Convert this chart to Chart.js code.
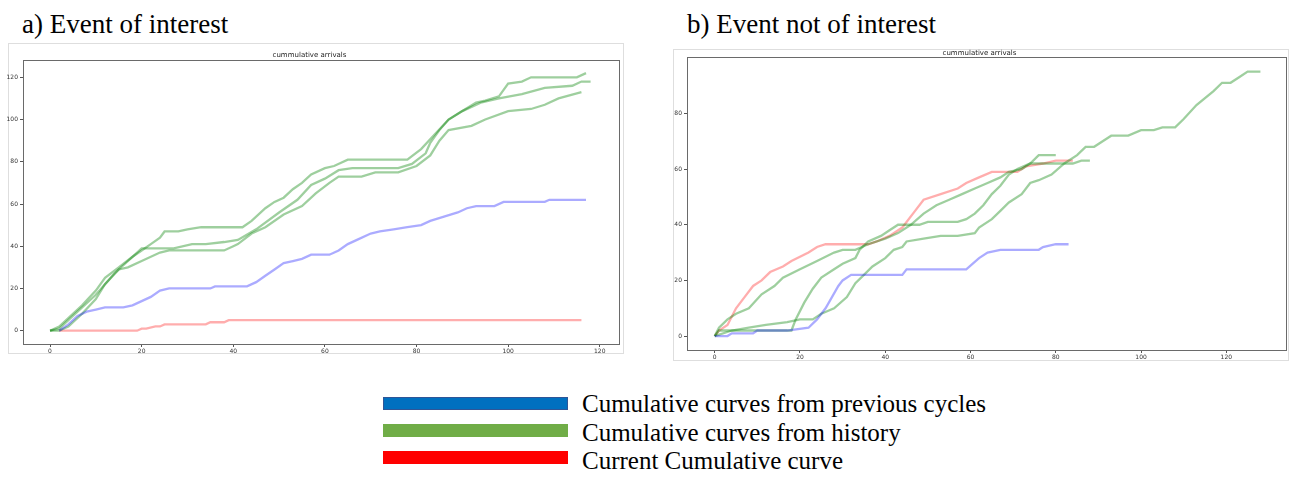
<!DOCTYPE html>
<html lang="en">
<head>
<meta charset="UTF-8">
<title>Cumulative arrivals</title>
<script src="https://cdn.jsdelivr.net/npm/chart.js"></script>
<style>
  body { margin: 0; width: 1290px; height: 477px; background: #fff; position: relative; overflow: hidden;
         font-family: "Liberation Serif", "Times New Roman", serif; color: #000; }
  .panel-title { position: absolute; font-size: 27px; line-height: 27px; white-space: nowrap; }
  .frame { position: absolute; border: 1px solid #dedede; box-sizing: border-box; }
  canvas.plot { position: absolute; filter: blur(0.45px); }
  .swatch { position: absolute; left: 383px; width: 185px; height: 13px; box-sizing: border-box; }
  .legend-text { position: absolute; left: 582px; font-size: 25px; line-height: 27px; white-space: nowrap; }
</style>
</head>
<body>
<div class="panel-title" style="left:22px; top:11px;">a) Event of interest</div>
<div class="panel-title" style="left:687px; top:11px;">b) Event not of interest</div>

<div class="frame" style="left:8px; top:43px; width:616px; height:311px;"></div>
<div class="frame" style="left:673px; top:49px; width:616px; height:312px;"></div>

<canvas id="chartA" class="plot" width="623" height="316" style="left:0; top:44px;"></canvas>
<canvas id="chartB" class="plot" width="617" height="320" style="left:673px; top:44px;"></canvas>

<div class="swatch" style="top:397px; background:#0070c0; border:1px solid #2f5597;"></div>
<div class="swatch" style="top:424px; background:#70ad47;"></div>
<div class="swatch" style="top:451px; background:#ff0000;"></div>
<div class="legend-text" style="top:390px;">Cumulative curves from previous cycles</div>
<div class="legend-text" style="top:419px;">Cumulative curves from history</div>
<div class="legend-text" style="top:447px;">Current Cumulative curve</div>

<script>
// a) event of interest
const aPrevX = [2,4,6,8,10,12,16,18,20,22,24,26,35,36,43,45,47,49,51,53,55,57,61,63,65,67,70,72,75,78,81,83,86,89,91,93,97,99,108,109,117];
const aPrevY = [0,3,7,9,10,11,11,12,14,16,19,20,20,21,21,23,26,29,32,33,34,36,36,38,41,43,46,47,48,49,50,52,54,56,58,59,59,61,61,62,62];
const aCurX = [2,19,20,21,23,24,25,34,35,36,38,39,40,116];
const aCurY = [0,0,1,1,2,2,3,3,4,4,4,5,5,5];
const aHist1X = [0,2,4,7,10,12,15,18,20,22,24,25,28,30,33,42,44,47,49,51,53,55,57,60,62,65,78,81,84,87,90,93,95,98,100,103,105,115,117];
const aHist1Y = [0,2,6,12,19,25,30,35,38,41,44,47,47,48,49,49,52,58,61,63,67,70,74,77,78,81,81,86,93,100,104,108,109,111,117,118,120,120,122];
const aHist2X = [0,2,4,6,8,10,12,14,16,18,20,22,27,31,34,38,41,45,50,54,57,60,63,66,76,79,82,83,85,87,90,94,98,103,108,114,116,118];
const aHist2Y = [0,1,5,9,13,17,22,27,31,35,39,39,39,41,41,42,43,48,56,62,69,72,76,77,77,79,84,89,95,100,104,108,110,112,115,116,118,118];
const aHist3X = [0,2,4,7,10,12,15,17,20,24,26,32,38,40,41,44,47,51,55,58,61,63,68,71,76,80,83,85,87,92,95,100,105,108,111,116];
const aHist3Y = [0,0,2,8,15,22,29,30,33,37,38,38,38,40,41,46,49,55,59,65,70,73,73,75,75,78,83,90,95,97,100,104,105,107,110,113];
const aXTicks = [0,20,40,60,80,100,120];
const aYTicks = [0,20,40,60,80,100,120];

// b) event not of interest
const bPrevX = [0,3,4,9,10,17,22,24,26,29,30,32,44,45,59,62,64,67,76,77,80,83];
const bPrevY = [0,0,1,1,2,2,3,6,10,18,20,22,22,24,24,28,30,31,31,32,33,33];
const bCurX = [0,1,3,5,7,9,11,13,16,18,22,24,26,36,38,41,44,47,49,53,57,59,62,65,71,73,77,80,84];
const bCurY = [0,2,4,10,14,18,20,23,25,27,30,32,33,33,34,36,39,45,49,51,53,55,57,59,59,61,62,63,63];
const bHist1X = [0,1,3,5,8,11,14,16,20,24,28,30,33,36,40,43,46,49,52,55,58,61,64,67,69,72,74,76,80];
const bHist1Y = [0,3,6,8,10,15,18,21,24,27,30,31,31,33,35,37,40,44,47,49,51,53,55,57,59,60,62,65,65];
const bHist2X = [0,1,18,19,21,23,25,28,30,33,34,36,39,41,43,48,50,57,59,61,63,65,67,69,71,74,84,86,88];
const bHist2Y = [0,2,2,6,12,17,21,24,26,28,31,34,36,38,40,40,41,41,42,44,47,51,54,58,60,62,62,63,63];
const bHist3X = [0,4,8,12,17,20,23,25,28,31,33,35,37,40,42,44,45,49,53,57,61,62,65,67,69,72,74,76,79,82,85,87,89,91,93,97,100,103,105,108,110,113,117,119,121,123,125,128];
const bHist3Y = [0,2,3,4,5,6,6,8,10,14,19,22,25,28,31,32,34,35,36,36,37,39,42,45,48,51,55,56,58,62,65,68,68,70,72,72,74,74,75,75,78,83,88,91,91,93,95,95];
const bXTicks = [0,20,40,60,80,100,120];
const bYTicks = [0,20,40,60,80];

const BLUE = 'rgba(0, 0, 255, 0.33)';
const GREEN = 'rgba(0, 128, 0, 0.38)';
const RED = 'rgba(255, 0, 0, 0.32)';

function points(xs, ys) {
  return xs.map((x, i) => ({ x: x, y: ys[i] }));
}

function line(xs, ys, color) {
  return { data: points(xs, ys), borderColor: color, borderWidth: 2.3, pointRadius: 0, tension: 0, fill: false };
}

// full box around the plot area, like the matplotlib axes frame
const axesBox = {
  id: 'axesBox',
  afterDraw(chart) {
    const a = chart.chartArea;
    const ctx = chart.ctx;
    ctx.save();
    ctx.strokeStyle = '#6a6a6a';
    ctx.lineWidth = 1;
    ctx.strokeRect(Math.round(a.left) + 0.5, Math.round(a.top) + 0.5, Math.round(a.right - a.left), Math.round(a.bottom - a.top));
    ctx.restore();
  }
};

function makeChart(id, datasets, opts) {
  const tickFont = { family: 'DejaVu Sans', size: 6 };
  new Chart(document.getElementById(id), {
    type: 'line',
    data: { datasets: datasets },
    plugins: [axesBox],
    options: {
      responsive: false,
      animation: false,
      devicePixelRatio: 1,
      layout: { padding: { left: 0, right: 4, top: 0, bottom: 0 } },
      plugins: {
        legend: { display: false },
        tooltip: { enabled: false },
        title: {
          display: true,
          text: 'cummulative arrivals',
          color: '#222',
          font: { family: 'DejaVu Sans', size: 7, weight: 'normal' },
          padding: opts.titlePad
        }
      },
      scales: {
        x: {
          type: 'linear',
          min: opts.xMin, max: opts.xMax,
          afterBuildTicks: s => { s.ticks = opts.xTicks.map(v => ({ value: v })); },
          afterFit: s => { s.height = opts.xHeight; },
          grid: { drawOnChartArea: false, tickLength: 3, color: '#555' },
          border: { display: false },
          ticks: { font: tickFont, color: '#333', padding: 1, maxRotation: 0 }
        },
        y: {
          type: 'linear',
          min: opts.yMin, max: opts.yMax,
          afterBuildTicks: s => { s.ticks = opts.yTicks.map(v => ({ value: v })); },
          afterFit: s => { s.width = opts.yWidth; },
          grid: { drawOnChartArea: false, tickLength: 3, color: '#555' },
          border: { display: false },
          ticks: { font: tickFont, color: '#333', padding: 2 }
        }
      }
    }
  });
}

makeChart('chartA', [
  line(aPrevX, aPrevY, BLUE),
  line(aHist1X, aHist1Y, GREEN),
  line(aHist2X, aHist2Y, GREEN),
  line(aHist3X, aHist3Y, GREEN),
  line(aCurX, aCurY, RED)
], { xMin: -5.9, xMax: 124.2, yMin: -6.3, yMax: 128.2, xTicks: aXTicks, yTicks: aYTicks,
     xHeight: 16, yWidth: 23, titlePad: { top: 7, bottom: 0.6 } });

makeChart('chartB', [
  line(bPrevX, bPrevY, BLUE),
  line(bHist1X, bHist1Y, GREEN),
  line(bHist2X, bHist2Y, GREEN),
  line(bHist3X, bHist3Y, GREEN),
  line(bCurX, bCurY, RED)
], { xMin: -6.5, xMax: 134, yMin: -5, yMax: 100.3, xTicks: bXTicks, yTicks: bYTicks,
     xHeight: 14, yWidth: 14, titlePad: { top: 4.5, bottom: 0 } });
</script>
</body>
</html>
